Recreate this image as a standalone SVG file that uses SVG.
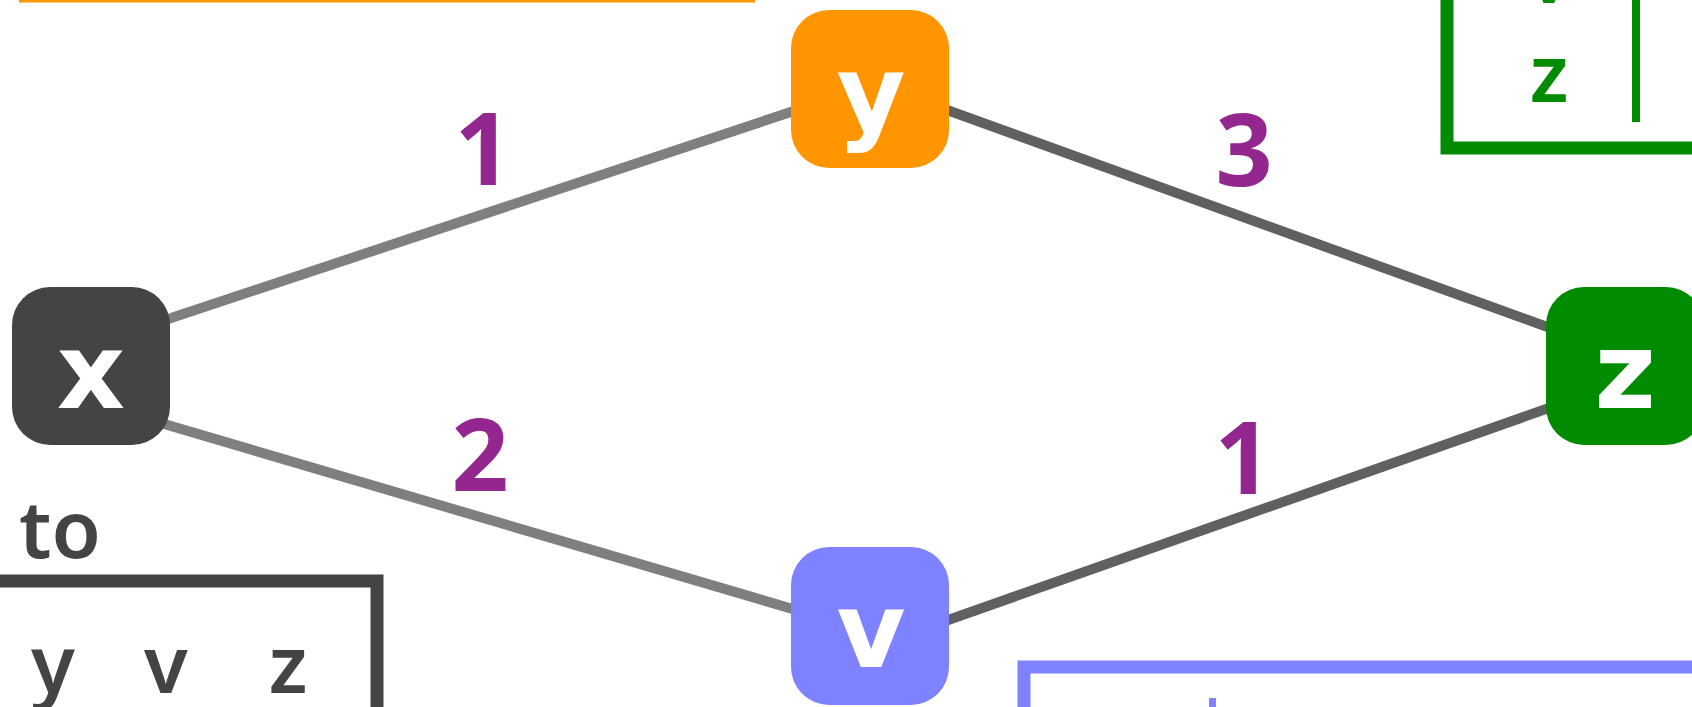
<svg xmlns="http://www.w3.org/2000/svg" width="1692" height="707" viewBox="0 0 1692 707">
<style>
.bg{fill:#ffffff}
.edgeL{stroke:#7f7f7f;stroke-width:10;fill:none}
.edgeR{stroke:#606060;stroke-width:10;fill:none}
.node{stroke:none}
.nlabel{font-family:"DejaVu Sans",sans-serif;font-weight:bold;font-size:106px;fill:#ffffff;text-anchor:middle}
.elabel{font-family:"Comic Sans MS","Noto Sans",sans-serif;font-weight:bold;font-size:100px;fill:#93278f;text-anchor:middle}
.tlabel{font-family:"Comic Sans MS","Noto Sans",sans-serif;font-weight:600;font-size:80px;text-anchor:middle}
.box{fill:none;stroke-width:13}
</style>
<rect class="bg" x="0" y="0" width="1692" height="707"/>
<g id="orange-table">
<rect x="19" y="0" width="736" height="2.5" fill="#ff9500"/>
</g>
<g id="green-table">
<polyline class="box" stroke="#008b00" points="1447,-10 1447,148 1700,148"/>
<rect x="1632" y="-10" width="8" height="132" fill="#008b00"/>
<text class="tlabel" fill="#008b00" x="1549" y="3">v</text>
<text class="tlabel" fill="#008b00" x="1549" y="102">z</text>
</g>
<g id="dark-table">
<text class="tlabel" fill="#444444" x="60" y="558">to</text>
<polyline class="box" stroke="#444444" points="-10,581 377,581 377,720"/>
<text class="tlabel" fill="#444444" x="53" y="693">y</text>
<text class="tlabel" fill="#444444" x="166" y="693">v</text>
<text class="tlabel" fill="#444444" x="288" y="693">z</text>
</g>
<g id="blue-table">
<polyline class="box" stroke="#7f82ff" stroke-width="14" points="1024,720 1024,667 1700,667"/>
<rect x="1209" y="698" width="7" height="12" fill="#7f82ff"/>
</g>
<g id="connectors">
<line class="edgeL" x1="120" y1="335" x2="830" y2="99"/>
<line class="edgeL" x1="120" y1="411" x2="830" y2="620"/>
<line class="edgeR" x1="900" y1="93" x2="1600" y2="346"/>
<line class="edgeR" x1="900" y1="637" x2="1600" y2="390"/>
<text class="elabel" x="483" y="185">1</text>
<text class="elabel" x="1244" y="186">3</text>
<text class="elabel" x="480" y="491">2</text>
<text class="elabel" x="1243" y="494">1</text>
</g>
<g id="node-x">
<rect class="node" x="12" y="287" width="158" height="158" rx="38" fill="#444444"/>
<text class="nlabel" x="91" y="408">x</text>
</g>
<g id="node-y">
<rect class="node" x="791" y="10" width="158" height="158" rx="38" fill="#ff9500"/>
<text class="nlabel" x="871" y="130">y</text>
</g>
<g id="node-z">
<rect class="node" x="1546" y="287" width="158" height="158" rx="38" fill="#008b00"/>
<text class="nlabel" x="1625" y="408">z</text>
</g>
<g id="node-v">
<rect class="node" x="791" y="547" width="158" height="158" rx="38" fill="#7f82ff"/>
<text class="nlabel" x="871" y="667">v</text>
</g>
</svg>
